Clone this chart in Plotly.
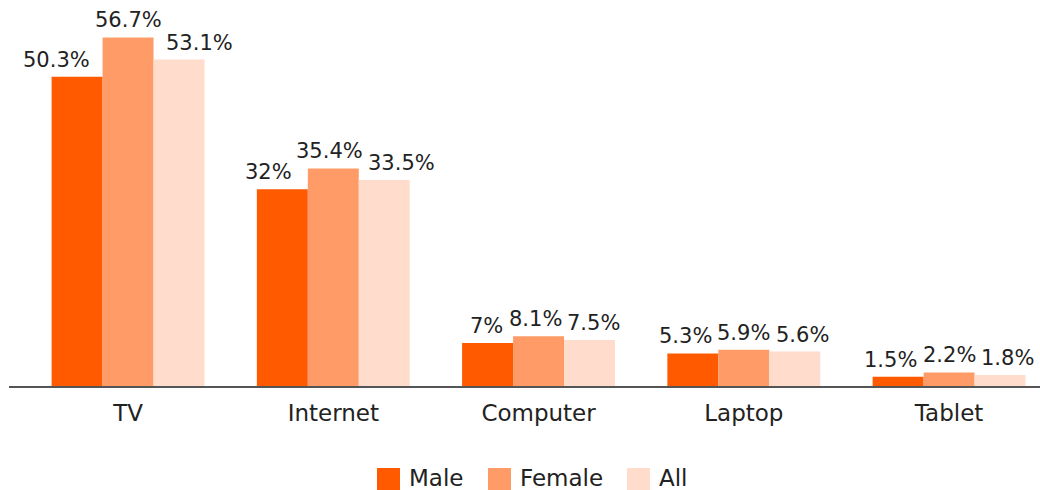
import plotly.graph_objects as go

categories = ["TV", "Internet", "Computer", "Laptop", "Tablet"]
male = [50.3, 32, 7, 5.3, 1.5]
female = [56.7, 35.4, 8.1, 5.9, 2.2]
all_ = [53.1, 33.5, 7.5, 5.6, 1.8]
series_names = ["Male", "Female", "All"]
colors = ["#FF5A00", "#FF9B66", "#FFDCCB"]

FONT = "DejaVu Sans"
LABEL_SIZE = 21
W, H = 1040, 490
ML, MR, MT, MB = 9, 0, 0, 104
PW, PH = W - ML - MR, H - MT - MB
X_RANGE = [-0.58, 4.443]
BARGAP = 0.255

def px_x(p):
    return (p - ML) / PW

def px_y(p):
    return (H - MB - p) / PH

series = [male, female, all_]

fig = go.Figure()
for name, vals, col in zip(series_names, series, colors):
    fig.add_trace(go.Bar(
        x=categories, y=vals, name=name, marker_color=col,
        marker_line_width=0, showlegend=False,
    ))

# value labels, spread horizontally within a group so they do not collide
char_w = {"%": 0.95, ".": 0.318}
def text_w(s):
    return sum(char_w.get(c, 0.636) for c in s) * LABEL_SIZE

px_per_cat = PW / (X_RANGE[1] - X_RANGE[0])
bar_px = (1 - BARGAP) / len(series) * px_per_cat
annos = []
for ci, cat in enumerate(categories):
    texts = [f"{s[ci]:g}%" for s in series]
    widths = [text_w(t) for t in texts]
    centers = [(k - (len(series) - 1) / 2) * bar_px for k in range(len(series))]
    for _ in range(30):
        for k in range(len(series) - 1):
            ov = (widths[k] + widths[k + 1]) / 2 + 5 - (centers[k + 1] - centers[k])
            if ov > 0:
                centers[k] -= ov / 2
                centers[k + 1] += ov / 2
    for k, s in enumerate(series):
        annos.append(dict(xref="x", yref="y", x=cat, y=s[ci], xshift=centers[k],
                          yshift=3, xanchor="center", yanchor="bottom",
                          text=texts[k], showarrow=False,
                          font=dict(size=LABEL_SIZE, color="#222222", family=FONT)))

# custom legend (large square swatches)
legend_x = [377, 488, 627]
shapes = []
for name, col, lx in zip(series_names, colors, legend_x):
    shapes.append(dict(type="rect", xref="paper", yref="paper",
                       x0=px_x(lx), x1=px_x(lx + 23), y0=px_y(491), y1=px_y(468),
                       fillcolor=col, line_width=0))
    annos.append(dict(xref="paper", yref="paper", x=px_x(lx + 30), y=px_y(478),
                      xanchor="left", yanchor="middle", text=name, showarrow=False,
                      font=dict(size=23, color="#222222", family=FONT)))

fig.update_layout(
    width=W, height=H,
    margin=dict(l=ML, r=MR, t=MT, b=MB, autoexpand=False),
    paper_bgcolor="white", plot_bgcolor="white",
    barmode="group", bargap=BARGAP, bargroupgap=0,
    font=dict(family=FONT, size=22, color="#222222"),
    showlegend=False,
    shapes=shapes, annotations=annos,
    xaxis=dict(range=X_RANGE, showline=True, linecolor="#555555", linewidth=2,
               ticks="", showgrid=False, automargin=False, ticklabelstandoff=5,
               tickfont=dict(size=23, color="#222222")),
    yaxis=dict(range=[0, 62.8], visible=False, showgrid=False, automargin=False),
)
fig.write_html("out.html")
